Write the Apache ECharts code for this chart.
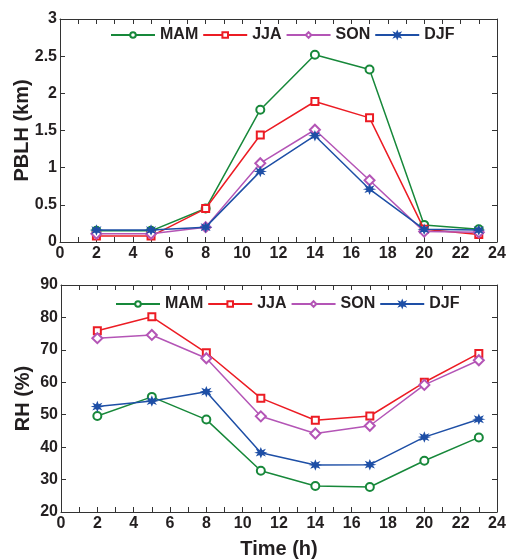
<!DOCTYPE html>
<html><head><meta charset="utf-8">
<script src="https://cdn.jsdelivr.net/npm/echarts@6/dist/echarts.min.js"></script>
<style>html,body{margin:0;padding:0;background:#fff}#c{width:506px;height:560px}</style>
</head><body><div id="c"></div>
<script>
const hours = [2, 5, 8, 11, 14, 17, 20, 23];
const seasons = ['MAM', 'JJA', 'SON', 'DJF'];
const pblhMAM = [0.15, 0.15, 0.45, 1.78, 2.52, 2.32, 0.23, 0.17];
const pblhJJA = [0.08, 0.08, 0.45, 1.44, 1.89, 1.67, 0.17, 0.10];
const pblhSON = [0.11, 0.11, 0.20, 1.06, 1.51, 0.83, 0.14, 0.13];
const pblhDJF = [0.16, 0.16, 0.20, 0.95, 1.43, 0.71, 0.17, 0.16];
const rhMAM = [49.6, 55.5, 48.5, 32.7, 28.0, 27.7, 35.8, 43.0];
const rhJJA = [75.9, 80.2, 69.1, 55.1, 48.3, 49.6, 60.0, 68.9];
const rhSON = [73.6, 74.6, 67.4, 49.5, 44.2, 46.6, 59.2, 66.8];
const rhDJF = [52.5, 54.2, 57.1, 38.3, 34.5, 34.6, 43.1, 48.6];

const colors = ['#17883a', '#ec1c24', '#b455b6', '#1e4fa6'];
const ast = 'path://M5,0 L6.2,3 L9.3,1.8 L7.6,4.4 L10,5 L7.6,5.6 L9.3,8.2 L6.2,7 L5,10 L3.8,7 L0.7,8.2 L2.4,5.6 L0,5 L2.4,4.4 L0.7,1.8 L3.8,3 Z';
const symbols = ['emptyCircle', 'emptyRect', 'emptyDiamond', ast];
const symSizes = [8, 7, 10, 8];
const txt = '#231f20';
const tickFont = {fontFamily: 'Liberation Sans, Arial, sans-serif', fontWeight: 'bold', fontSize: 16, color: txt};
const titleFont = {fontFamily: 'Liberation Sans, Arial, sans-serif', fontWeight: 'bold', fontSize: 20, color: txt};

function xAx(gi, pos, showLab, name) {
  return {
    type: 'value', gridIndex: gi, position: pos, min: 0, max: 24, interval: 1,
    axisLine: {show: true, onZero: false, lineStyle: {color: '#333', width: 1}},
    axisTick: {show: true, inside: true, length: 5, lineStyle: {color: '#333'}},
    splitLine: {show: false},
    axisLabel: showLab ? Object.assign({margin: 4, formatter: v => (v % 2 === 0 ? String(v) : '')}, tickFont) : {show: false},
    name: name || '', nameLocation: 'middle', nameGap: 27, nameMoveOverlap: false, nameTextStyle: titleFont
  };
}
function yAx(gi, pos, min, max, itv, showLab, name) {
  return {
    type: 'value', gridIndex: gi, position: pos, min: min, max: max, interval: itv,
    axisLine: {show: true, onZero: false, lineStyle: {color: '#333', width: 1}},
    axisTick: {show: true, inside: true, length: 5, lineStyle: {color: '#333'}},
    splitLine: {show: false},
    axisLabel: showLab ? Object.assign({margin: 3}, tickFont) : {show: false},
    name: name || '', nameLocation: 'middle', nameGap: 28, nameMoveOverlap: false, nameTextStyle: titleFont
  };
}

const topData = [pblhMAM, pblhJJA, pblhSON, pblhDJF];
const botData = [rhMAM, rhJJA, rhSON, rhDJF];
const series = [];
seasons.forEach((s, i) => {
  series.push({
    name: s, type: 'line', xAxisIndex: 0, yAxisIndex: 0,
    data: hours.map((h, k) => [h, topData[i][k]]),
    symbol: symbols[i], symbolSize: symSizes[i], showAllSymbol: true,
    itemStyle: {color: colors[i], borderColor: colors[i], borderWidth: 1.3},
    lineStyle: {color: colors[i], width: 1.5}, z: 2 + i
  });
});
seasons.forEach((s, i) => {
  series.push({
    name: s, type: 'line', xAxisIndex: 2, yAxisIndex: 2,
    data: hours.map((h, k) => [h, botData[i][k]]),
    symbol: symbols[i], symbolSize: symSizes[i], showAllSymbol: true,
    itemStyle: {color: colors[i], borderColor: colors[i], borderWidth: 1.3},
    lineStyle: {color: colors[i], width: 1.5}, z: 2 + i
  });
});

const legendCommon = {
  data: seasons, orient: 'horizontal', itemWidth: 44, itemHeight: 7, itemGap: 4,
  textStyle: {fontFamily: 'Liberation Sans, Arial, sans-serif', fontWeight: 'bold', fontSize: 16, color: txt},
  selectedMode: false
};

const chart = echarts.init(document.getElementById('c'), null, {renderer: 'canvas'});
chart.setOption({
  animation: false,
  backgroundColor: '#fff',
  grid: [
    {left: 60, right: 9, top: 19, height: 223, outerBoundsMode: 'none', containLabel: false},
    {left: 61, right: 9, top: 285, height: 227, outerBoundsMode: 'none', containLabel: false}
  ],
  legend: [
    Object.assign({left: 105, top: 22}, legendCommon),
    Object.assign({left: 110, top: 291}, legendCommon)
  ],
  xAxis: [
    xAx(0, 'bottom', true), xAx(0, 'top', false),
    xAx(1, 'bottom', true, 'Time (h)'), xAx(1, 'top', false)
  ],
  yAxis: [
    yAx(0, 'left', 0, 3, 0.5, true, 'PBLH (km)'), yAx(0, 'right', 0, 3, 0.5, false),
    yAx(1, 'left', 20, 90, 10, true, 'RH (%)'), yAx(1, 'right', 20, 90, 10, false)
  ],
  series: series
});
</script></body></html>
